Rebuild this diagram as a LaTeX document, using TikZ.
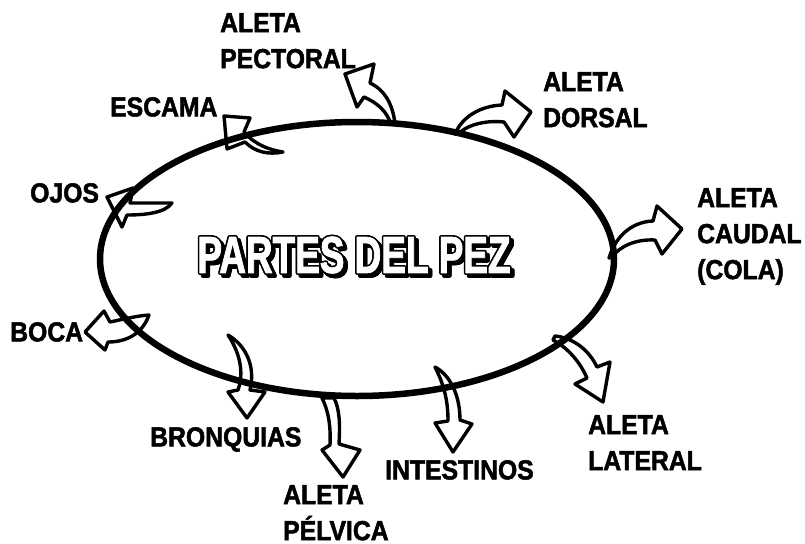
\documentclass[tikz,border=0pt]{standalone}
\usepackage{fontspec}
\setmainfont{Liberation Sans}
\newfontfamily\labelfont{Liberation Sans}[UprightFont={* Bold},FakeStretch=0.9,FakeBold=1.8]
\newfontfamily\titlefont{Liberation Sans}[UprightFont={* Bold},FakeStretch=0.71,FakeBold=1.5]

\begin{document}
\begin{tikzpicture}[x=1pt,y=-1pt,
	finarrow/.style={draw=black,fill=white,line width=3.4pt,line join=round},
	lbl/.style={anchor=north west,inner sep=0pt,align=left,font=\labelfont\fontsize{27.5}{36}\selectfont},
	ttl/.style={inner sep=0pt,font=\titlefont\fontsize{52}{52}\selectfont}]
	\useasboundingbox (0,0) rectangle (805,543);
	\coordinate (mid) at (354,255);
	\coordinate (shd) at (357,258);
	% arrows
	\draw[finarrow] (395,124) .. controls (393,105) and (385,90) .. (370,83) -- (374,64) -- (345,74) -- (357,107) -- (364,97) .. controls (377,103) and (386,110) .. (391,124) -- cycle;
	\draw[finarrow] (455,134) .. controls (462,117) and (480,106) .. (502,105) -- (505,91) -- (531,112) -- (514,137) -- (504,122) .. controls (485,120) and (467,125) .. (458,134) -- cycle;
	\draw[finarrow] (609,258) .. controls (615,238) and (630,222) .. (653,221) -- (657,206) -- (682,229) -- (662,254) -- (655,240) .. controls (636,239) and (620,246) .. (612,257) -- cycle;
	\draw[finarrow] (555,336) .. controls (575,338) and (590,352) .. (597,367) -- (610,362) -- (603,402) -- (575,384) -- (587,378) .. controls (580,362) and (568,348) .. (553,340) -- cycle;
	\draw[finarrow] (435,367) .. controls (450,375) and (460,395) .. (460,420) -- (472,424) -- (453,452) -- (435,423) -- (448,421) .. controls (448,400) and (444,385) .. (435,367) -- cycle;
	\draw[finarrow] (322,398) -- (334,398) .. controls (340,410) and (340,425) .. (339,444) -- (360,450) -- (343,477) -- (322,450) -- (330,445) .. controls (331,425) and (328,410) .. (322,398) -- cycle;
	\draw[finarrow] (228,335) .. controls (245,345) and (256,365) .. (250,390) -- (265,392) -- (247,418) -- (228,392) -- (238,390) .. controls (245,370) and (238,350) .. (228,335) -- cycle;
	\draw[finarrow] (149,315) .. controls (135,316) and (120,320) .. (110,322) -- (104,311) -- (85,332) -- (105,350) -- (108,342) .. controls (125,342) and (142,335) .. (149,315) -- cycle;
	\draw[finarrow] (172,203) .. controls (160,203) and (145,203) .. (130,203) -- (133,188) -- (107,197) -- (122,227) -- (127,215) .. controls (145,215) and (165,213) .. (172,203) -- cycle;
	\draw[finarrow] (283,152) .. controls (270,150) and (255,145) .. (244,132) -- (250,118) -- (224,116) -- (227,149) -- (245,142) .. controls (255,152) and (268,155) .. (283,152) -- cycle;
	% body
	\draw[line width=6.5pt] (mid) ++(3,4) ellipse [x radius=257pt, y radius=137pt];
	% title
	\foreach \a in {0,30,...,330} {
		\node[ttl] at ([shift={(\a:1.6)}]shd) {PARTES DEL PEZ};
		\node[ttl] at ([shift={(\a:1.6)}]mid) {PARTES DEL PEZ};
	}
	\node[ttl,text=white] (title) at (mid) {PARTES DEL PEZ};
	% labels
	\node[lbl] (pectoral) at (220,13) {ALETA\\PECTORAL};
	\node[lbl] (dorsal) at (543,72) {ALETA\\DORSAL};
	\node[lbl] (escama) at (110,97) {ESCAMA};
	\node[lbl] (ojos) at (30,183) {OJOS};
	\node[lbl] (boca) at (10,322) {BOCA};
	\node[lbl] (caudal) at (697,188) {ALETA\\CAUDAL\\(COLA)};
	\node[lbl] (bronquias) at (150,427) {BRONQUIAS};
	\node[lbl] (pelvica) at (283,485) {ALETA\\PÉLVICA};
	\node[lbl] (intestinos) at (385,460) {INTESTINOS};
	\node[lbl] (lateral) at (588,415) {ALETA\\LATERAL};
\end{tikzpicture}
\end{document}
